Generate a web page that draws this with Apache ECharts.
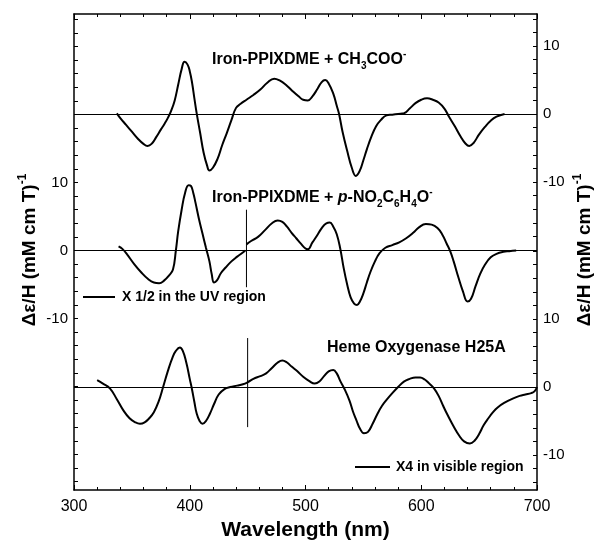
<!DOCTYPE html>
<html><head><meta charset="utf-8">
<script src="https://cdn.jsdelivr.net/npm/echarts/dist/echarts.min.js"></script>
<style>html,body{margin:0;padding:0;background:#fff}#c{width:594px;height:550px}</style>
</head><body><div id="c"></div>
<script>
// ---- data ----
const xTicks = [300, 400, 500, 600, 700];
const yTickLabels = [-10, 0, 10];

const acetate = [
 [337,0.1],[340,-0.6],[345,-1.6],[350,-2.6],[355,-3.6],[360,-4.4],[363.5,-4.7],[367,-4.4],[371,-3.4],[375,-2.3],
 [378,-1.5],[381,-0.6],[384,0.5],[387,2.0],[390,4.3],[393,6.6],[395.5,7.7],[398,7.3],[400,6.3],[402,4.6],
 [404,2.3],[406,0.1],[409,-2.8],[412,-5.7],[415,-7.6],[417,-8.3],[420,-7.9],[424,-6.6],[428,-4.6],[432,-2.8],
 [436,-0.9],[440,0.9],[444,1.5],[449,2.1],[455,2.8],[461,3.6],[467,4.6],[473,5.2],[478,4.9],[483,4.3],
 [488,3.5],[494,2.6],[498,2.1],[502,2.0],[506,2.6],[510,3.6],[514,4.7],[517,5.0],[520,4.5],[524,3.0],
 [527,1.2],[529,0],[532,-2.6],[536,-5.4],[540,-7.9],[543.5,-9.1],[547,-8.3],[550,-6.8],[553,-5.2],[557,-3.3],
 [561,-1.8],[565,-0.9],[570,-0.2],[575,-0.1],[580,0],[585,0.1],[590,0.8],[595,1.6],[600,2.1],[605,2.3],
 [610,2.1],[615,1.7],[620,0.8],[624,-0.4],[629,-1.8],[634,-3.3],[638,-4.3],[641.5,-4.7],[645,-4.3],[650,-3.0],
 [655,-1.9],[660,-1.0],[665,-0.4],[672,0]
];

const phenolateUV = [
 [338.5,0.6],[342,0.2],[346,-0.6],[352,-2.0],[358,-3.2],[364,-4.2],[369,-4.7],[373.5,-4.8],[378,-4.4],[382,-3.7],
 [385.5,-2.8],[388,0],[390,2.8],[393,6.0],[396,8.5],[399,9.6],[401,9.5],[403,8.5],[405,7.0],[408,4.6],
 [411,2.5],[414,0.4],[417,-1.6],[419,-3.5],[421,-4.7],[423.5,-4.4],[427,-3.3],[431,-2.5],[436,-1.6],[441,-0.9],
 [445,-0.4],[448,0]
];

const phenolateVis = [
 [449,0.9],[453,1.4],[459,2.0],[465,3.0],[471,4.0],[476,4.4],[480,4.2],[484,3.5],[488,2.6],[492,1.8],
 [496,1.0],[500,0.3],[502,0.2],[506,1.2],[510,2.2],[514,3.3],[518,4.0],[521,4.1],[524,3.5],[527,2.4],
 [530,0.3],[533,-2.6],[536,-5.0],[539,-6.9],[542,-7.8],[544.5,-8.0],[547,-7.5],[550,-6.3],[553,-4.7],[556,-3.2],
 [560,-1.6],[564,-0.4],[569,0.4],[575,0.8],[581,1.2],[587,1.8],[593,2.6],[598,3.4],[604,3.9],[609,3.8],
 [614,3.3],[618,2.4],[622,1.0],[625,-0.1],[628,-1.6],[632,-3.9],[636,-6.0],[640,-7.5],[643,-7.1],[647,-5.2],
 [651,-3.4],[655,-2.1],[660,-1.0],[665,-0.5],[671,-0.2],[676,-0.1],[682,0]
];

const hemeH25A = [
 [320,1.0],[325,0.5],[331,-0.2],[337,-1.8],[342.5,-3.4],[348,-4.6],[353,-5.2],[357,-5.4],[361,-5.2],[365,-4.6],
 [369,-3.7],[373,-2.2],[377,0],[381,2.3],[385,4.3],[388,5.3],[391.5,5.8],[394,5.3],[397,3.6],[400,1.2],
 [402,-0.4],[404,-2.2],[406,-3.9],[408.5,-5.0],[411,-5.4],[414,-5.0],[417.5,-3.9],[421,-2.5],[425,-1.1],[430,-0.3],
 [435,0],[441,0.2],[446,0.4],[450,0.7],[455,1.2],[461,1.6],[466,2.0],[471,2.8],[476,3.6],[480,3.9],
 [484,3.6],[488,3.0],[493,2.3],[498,1.5],[503,0.9],[508,0.5],[512,0.8],[516,1.6],[520,2.3],[524,2.5],
 [527,2.0],[530,0.9],[534,-0.4],[538,-2.0],[541,-3.6],[544,-4.9],[547,-6.1],[550.5,-6.8],[554,-6.6],[558,-5.4],
 [562,-4.0],[566,-2.8],[570,-1.9],[575,-0.9],[580,0.0],[585,0.8],[590,1.2],[595,1.4],[599,1.4],[603,1.1],
 [607,0.5],[611,-0.2],[615,-1.3],[619,-2.8],[623,-4.2],[628,-5.8],[633,-7.2],[637,-8.0],[642,-8.3],[646,-7.9],
 [650,-6.9],[654,-5.6],[658,-4.6],[662,-3.7],[666,-3.0],[672,-2.3],[679,-1.7],[685,-1.3],[690,-1.1],[695,-0.9],
 [698,-0.6],[700,0]
];

const phenolateMarker = [[449,6.0],[449,-5.4]];
const hemeMarker = [[450,7.2],[450,-5.9]];

// ---- layout ----
const F = '"Liberation Sans", Arial, Helvetica, sans-serif';
const W = 594, L = 74, R = 537, FT = 14, FB = 490;
const S = 6.8; // px per unit
function band(base, lo, hi) {
  return { left: L, right: W - R, top: base - hi * S, height: (hi - lo) * S };
}
const ranges = { top: [-20, 14], mid: [-34, 34], bot: [-14, 20] };

function dataY(gi, pos, rng) {
  return {
    type: 'value', gridIndex: gi, position: pos, min: rng[0], max: rng[1], interval: 2,
    axisLine: { show: false },
    axisTick: { show: true, inside: true, length: 4, lineStyle: { color: '#000', width: 1 } },
    axisLabel: {
      show: true, color: '#000', fontSize: 15, fontFamily: F, margin: 6,
      formatter: v => (yTickLabels.indexOf(v) >= 0 ? String(v) : '')
    },
    splitLine: { show: false }
  };
}
function hiddenX(gi) {
  return { type: 'value', gridIndex: gi, min: xTicks[0], max: xTicks[xTicks.length - 1], show: false };
}
function frameY(pos) {
  return {
    type: 'value', gridIndex: 0, position: pos, min: 0, max: 1,
    axisLine: { show: true, onZero: false, lineStyle: { color: '#000', width: 1.5 } },
    axisTick: { show: false }, axisLabel: { show: false }, splitLine: { show: false }
  };
}
function frameX(pos, labels) {
  return {
    type: 'value', gridIndex: 0, position: pos,
    min: xTicks[0], max: xTicks[xTicks.length - 1], interval: xTicks[1] - xTicks[0],
    axisLine: { show: true, onZero: false, lineStyle: { color: '#000', width: 1.5 } },
    axisTick: { show: true, inside: true, length: 5, lineStyle: { color: '#000', width: 1 } },
    minorTick: { show: true, splitNumber: 5, length: 3, lineStyle: { color: '#000', width: 1 } },
    axisLabel: { show: labels, color: '#000', fontSize: 16, fontFamily: F, margin: 9 },
    splitLine: { show: false }, minorSplitLine: { show: false }
  };
}
const curveStyle = { color: '#000', width: 2 };
const zeroLine = {
  silent: true, symbol: 'none', label: { show: false },
  lineStyle: { color: '#000', width: 1.1, type: 'solid' },
  data: [{ yAxis: 0 }]
};
function curve(name, data, ai, withZero) {
  const s = {
    name, type: 'line', data, xAxisIndex: ai, yAxisIndex: ai,
    showSymbol: false, symbol: 'none', smooth: 0.45,
    lineStyle: curveStyle, itemStyle: { color: '#000' }, clip: false
  };
  if (withZero) s.markLine = zeroLine;
  return s;
}
function marker(name, data, ai) {
  return {
    name, type: 'line', data, xAxisIndex: ai, yAxisIndex: ai, showSymbol: false, symbol: 'none',
    lineStyle: { color: '#000', width: 1 }, itemStyle: { color: '#000' }
  };
}

const rich = {
  b: { fontSize: 16, fontWeight: 'bold', fontFamily: F, fill: '#000', lineHeight: 22 },
  i: { fontSize: 16, fontWeight: 'bold', fontStyle: 'italic', fontFamily: F, fill: '#000', lineHeight: 22 },
  s: { fontSize: 10, fontWeight: 'bold', fontFamily: F, fill: '#000', lineHeight: 10, verticalAlign: 'bottom' },
  p: { fontSize: 10, fontWeight: 'bold', fontFamily: F, fill: '#000', lineHeight: 10, verticalAlign: 'top' }
};
const yrich = {
  b: { fontSize: 19, fontWeight: 'bold', fontFamily: F, fill: '#000', lineHeight: 26 },
  p: { fontSize: 12, fontWeight: 'bold', fontFamily: F, fill: '#000', lineHeight: 12, verticalAlign: 'top' }
};
const yTitle = '{b|\u0394\u03b5/H (mM cm T)}{p|-1}';

function note(x, y, txt) {
  return { type: 'text', x, y, style: { text: txt, font: 'bold 14px ' + F, fill: '#000', verticalAlign: 'middle', align: 'left' } };
}
function stroke(x1, x2, y) {
  return { type: 'line', shape: { x1, y1: y, x2, y2: y }, style: { stroke: '#000', lineWidth: 2 } };
}

const option = {
  animation: false,
  backgroundColor: '#fff',
  grid: [
    { left: L, right: W - R, top: FT, bottom: 550 - FB },
    band(114, ranges.top[0], ranges.top[1]),
    band(250.5, ranges.mid[0], ranges.mid[1]),
    band(387, ranges.bot[0], ranges.bot[1])
  ],
  xAxis: [
    Object.assign(frameX('bottom', true), {
      name: 'Wavelength (nm)', nameLocation: 'middle', nameGap: 28,
      nameTextStyle: { fontSize: 21, fontWeight: 'bold', fontFamily: F, color: '#000' }
    }),
    frameX('top', false),
    hiddenX(1), hiddenX(2), hiddenX(3)
  ],
  yAxis: [
    frameY('left'), frameY('right'),
    dataY(1, 'right', ranges.top),
    dataY(2, 'left', ranges.mid),
    dataY(3, 'right', ranges.bot)
  ],
  series: [
    curve('Iron-PPIXDME + CH3COO-', acetate, 2, true),
    curve('Iron-PPIXDME + p-NO2C6H4O- (UV)', phenolateUV, 3, true),
    curve('Iron-PPIXDME + p-NO2C6H4O- (visible)', phenolateVis, 3, false),
    marker('phenolate divider', phenolateMarker, 3),
    curve('Heme Oxygenase H25A', hemeH25A, 4, true),
    marker('heme divider', hemeMarker, 4)
  ],
  graphic: [
    { type: 'text', x: 212, y: 60, style: { text: '{b|Iron-PPIXDME + CH}{s|3}{b|COO}{p|-}', rich, verticalAlign: 'middle', align: 'left' } },
    { type: 'text', x: 212, y: 198, style: { text: '{b|Iron-PPIXDME + }{i|p}{b|-NO}{s|2}{b|C}{s|6}{b|H}{s|4}{b|O}{p|-}', rich, verticalAlign: 'middle', align: 'left' } },
    { type: 'text', x: 327, y: 348, style: { text: '{b|Heme Oxygenase H25A}', rich, verticalAlign: 'middle', align: 'left' } },
    stroke(83, 115, 297), note(122, 297, 'X 1/2 in the UV region'),
    stroke(355, 390, 467), note(396, 467, 'X4 in visible region'),
    { type: 'text', x: 30, y: 250, rotation: Math.PI / 2, style: { text: yTitle, rich: yrich, align: 'center', verticalAlign: 'middle' } },
    { type: 'text', x: 585, y: 250, rotation: Math.PI / 2, style: { text: yTitle, rich: yrich, align: 'center', verticalAlign: 'middle' } }
  ]
};
const chart = echarts.init(document.getElementById('c'), null, { renderer: 'canvas' });
chart.setOption(option);
</script></body></html>
